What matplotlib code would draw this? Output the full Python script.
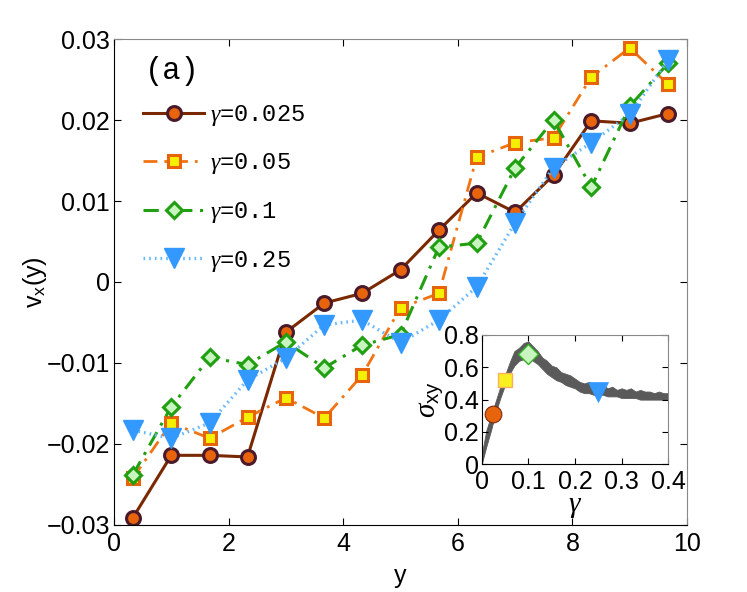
import numpy as np
import matplotlib
matplotlib.use('Agg')
import matplotlib.pyplot as plt

plt.rcParams['font.family'] = ['Liberation Sans', 'DejaVu Sans']
plt.rcParams['mathtext.fontset'] = 'custom'
plt.rcParams['mathtext.rm'] = 'Liberation Sans'
plt.rcParams['mathtext.sf'] = 'Liberation Sans'
plt.rcParams['mathtext.it'] = 'Liberation Serif:italic'

# main panel data : v_x(y) profiles
y_pos = [0.33, 1.0, 1.67, 2.33, 3.0, 3.67, 4.33, 5.0, 5.67, 6.33, 7.0, 7.67, 8.33, 9.0, 9.67]
vx_0025 = [-0.0291, -0.0214, -0.0214, -0.0216, -0.0062, -0.0026, -0.0014, 0.0015,
           0.0064, 0.0110, 0.0086, 0.0132, 0.0199, 0.0196, 0.0208]
vx_005 = [-0.0242, -0.0174, -0.0193, -0.0167, -0.0143, -0.0168, -0.0115, -0.0032,
          -0.0014, 0.0154, 0.0172, 0.0178, 0.0253, 0.0289, 0.0244]
vx_01 = [-0.0238, -0.0154, -0.0093, -0.0102, -0.0074, -0.0106, -0.0078, -0.0065,
         0.0043, 0.0048, 0.0141, 0.0200, 0.0117, 0.0217, 0.0270]
vx_025 = [-0.0183, -0.0193, -0.0174, -0.0121, -0.0094, -0.0053, -0.0047, -0.0075,
          -0.0047, -0.0006, 0.0073, 0.0141, 0.0172, 0.0207, 0.0274]
labels = [r'$\gamma$=0.025', r'$\gamma$=0.05', r'$\gamma$=0.1', r'$\gamma$=0.25']

# inset : stress-strain curve (band)
gam = [0.00, 0.01, 0.02, 0.03, 0.04, 0.05, 0.06, 0.07, 0.08, 0.09, 0.10, 0.11, 0.12, 0.13,
       0.14, 0.15, 0.16, 0.17, 0.18, 0.19, 0.20, 0.21, 0.22, 0.23, 0.24, 0.25, 0.26, 0.27,
       0.28, 0.29, 0.30, 0.31, 0.32, 0.33, 0.34, 0.35, 0.36, 0.37, 0.38, 0.39, 0.40]
sig_hi = [0.06, 0.21, 0.30, 0.39, 0.48, 0.55, 0.63, 0.70, 0.72, 0.75, 0.76, 0.73, 0.70, 0.66,
          0.64, 0.61, 0.60, 0.57, 0.56, 0.55, 0.53, 0.51, 0.50, 0.51, 0.49, 0.48, 0.49, 0.47,
          0.48, 0.46, 0.47, 0.46, 0.47, 0.45, 0.46, 0.45, 0.45, 0.44, 0.45, 0.44, 0.44]
sig_lo = [0.00, 0.11, 0.21, 0.32, 0.41, 0.49, 0.56, 0.61, 0.64, 0.65, 0.66, 0.64, 0.62, 0.59,
          0.56, 0.54, 0.52, 0.51, 0.49, 0.48, 0.47, 0.45, 0.44, 0.44, 0.43, 0.43, 0.43, 0.42,
          0.42, 0.42, 0.41, 0.41, 0.41, 0.41, 0.40, 0.40, 0.40, 0.40, 0.40, 0.40, 0.40]
mark_gam = [0.025, 0.05, 0.1, 0.25]
mark_sig = [0.31, 0.52, 0.68, 0.45]

fig = plt.figure(figsize=(7.47, 5.92), dpi=100)
ax = fig.add_axes([0.1526, 0.1132, 0.7671, 0.8209])

ax.plot(y_pos, vx_0025, '-', color='#7a2800', lw=2.2, marker='o', ms=10,
        mfc='#e8640c', mec='#4a1a2a', mew=2.2, label=labels[0])
ax.plot(y_pos, vx_005, color='#f07414', lw=2.0, ls=(0, (5, 2.5, 1, 2.5)), marker='s', ms=8.5,
        mfc='#f4f000', mec='#e8640c', mew=2.2, label=labels[1])
ax.plot(y_pos, vx_01, color='#20a010', lw=2.2, ls=(0, (5, 2.5, 1, 2.5)), marker='D', ms=8.5,
        mfc='#c8f4c0', mec='#20a010', mew=2.2, label=labels[2])
ax.plot(y_pos, vx_025, color='#66b8ff', lw=2.4, ls=(0, (0.5, 1.2)), marker='v', ms=14,
        mfc='#3399ff', mec='#3399ff', mew=1, label=labels[3])

ax.set_xlim(0, 10)
ax.set_ylim(-0.03, 0.03)
ax.set_xticks([0, 2, 4, 6, 8, 10])
ax.set_yticks([-0.03, -0.02, -0.01, 0, 0.01, 0.02, 0.03])
ax.set_yticklabels(['\u22120.03', '\u22120.02', '\u22120.01', '0', '0.01', '0.02', '0.03'])
ax.tick_params(direction='in', top=True, right=True, labelsize=18, length=5, width=0.8)
ax.tick_params(axis='x', pad=5)
ax.tick_params(axis='y', pad=3)
for s in ['top', 'right']:
    ax.spines[s].set_color('#888888')
ax.set_xlabel('y', fontsize=18, labelpad=6)
ax.set_ylabel(r'v$_{\mathrm{x}}$(y)', fontsize=18, labelpad=-2)

ax.text(0.054, 0.935, '(a)', transform=ax.transAxes, fontsize=22,
        family=['Liberation Mono', 'DejaVu Sans Mono'], va='center')
ax.legend(loc='upper left', bbox_to_anchor=(0.03, 0.893), frameon=False,
          prop={'family': ['Liberation Mono', 'DejaVu Sans Mono'], 'size': 17},
          handlelength=2.6, handletextpad=0.25, labelspacing=1.0, borderpad=0)

# inset
axi = fig.add_axes([0.6448, 0.2157, 0.2498, 0.2185])
axi.fill_between(gam, sig_lo, sig_hi, color='#5a5a5a', lw=0.6, edgecolor='#5a5a5a')
axi.plot(mark_gam[0], mark_sig[0], 'o', ms=12, mfc='#e8640c', mec='#7a2a10', mew=0.8)
axi.plot(mark_gam[1], mark_sig[1], 's', ms=10.5, mfc='#f8f020', mec='#f8b060', mew=1)
axi.plot(mark_gam[2], mark_sig[2], 'D', ms=10.5, mfc='#c8f4c0', mec='#30b020', mew=1)
axi.plot(mark_gam[3], mark_sig[3], 'v', ms=14, mfc='#3399ff', mec='#3399ff', mew=0.5)
axi.set_xlim(0, 0.4)
axi.set_ylim(0, 0.8)
axi.set_xticks([0, 0.1, 0.2, 0.3, 0.4])
axi.set_xticklabels(['0', '0.1', '0.2', '0.3', '0.4'])
axi.set_yticks([0, 0.2, 0.4, 0.6, 0.8])
axi.set_yticklabels(['0', '0.2', '0.4', '0.6', '0.8'])
axi.tick_params(direction='in', top=True, right=True, labelsize=18, length=4, width=0.8)
axi.tick_params(axis='x', pad=4)
axi.tick_params(axis='y', pad=2)
for s in ['top', 'right']:
    axi.spines[s].set_color('#888888')
axi.set_xlabel(r'$\gamma$', fontsize=21, labelpad=-1)
axi.set_ylabel(r'$\sigma_{\mathrm{xy}}$', fontsize=21, labelpad=-1)

fig.savefig('out.png', dpi=100)
